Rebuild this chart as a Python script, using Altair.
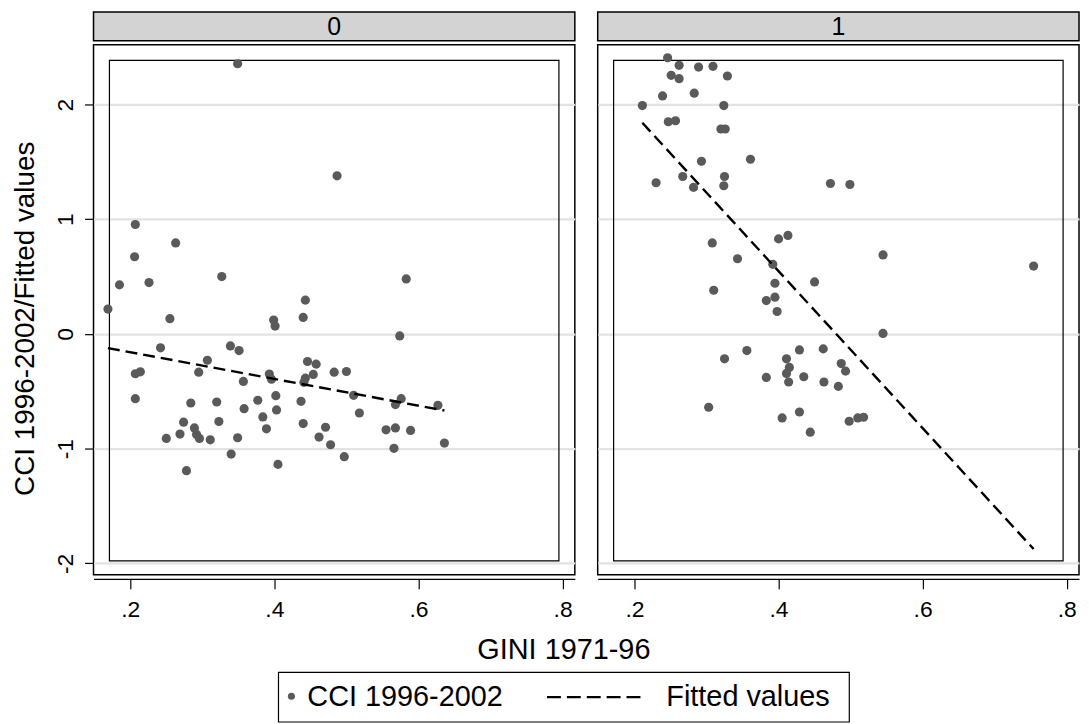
import altair as alt
import pandas as pd

# ---------------- data ----------------
panel_labels = ["0", "1"]

gini_0 = [0.349, 0.487, 0.207, 0.263, 0.206, 0.185, 0.226, 0.327, 0.443, 0.169,
          0.255, 0.440, 0.399, 0.401, 0.242, 0.339, 0.351, 0.207, 0.214, 0.307,
          0.295, 0.357, 0.393, 0.396, 0.446, 0.458, 0.443, 0.454, 0.441, 0.483,
          0.207, 0.284, 0.320, 0.377, 0.402, 0.437, 0.358, 0.403, 0.384, 0.274,
          0.323, 0.440, 0.289, 0.389, 0.471, 0.250, 0.269, 0.292, 0.296, 0.311,
          0.349, 0.462, 0.478, 0.340, 0.405, 0.278, 0.583, 0.574, 0.500, 0.510,
          0.576, 0.568, 0.627, 0.518, 0.555, 0.568, 0.589, 0.566, 0.636, 0.497]
cci_0 = [2.356, 1.379, 0.954, 0.794, 0.673, 0.428, 0.448, 0.500, 0.295, 0.217,
         0.133, 0.144, 0.121, 0.069, -0.121, -0.104, -0.145, -0.347, -0.330, -0.229,
         -0.333, -0.414, -0.350, -0.394, -0.240, -0.263, -0.385, -0.353, -0.422, -0.333,
         -0.564, -0.602, -0.593, -0.578, -0.538, -0.587, -0.651, -0.662, -0.723, -0.769,
         -0.763, -0.781, -0.819, -0.827, -0.813, -0.911, -0.873, -0.876, -0.911, -0.923,
         -0.905, -0.899, -0.966, -1.047, -1.137, -1.192, 0.480, -0.017, -0.327, -0.535,
         -0.564, -0.616, -0.622, -0.689, -0.836, -0.819, -0.841, -0.997, -0.951, -1.070]

gini_1 = [0.246, 0.262, 0.289, 0.309, 0.251, 0.262, 0.329, 0.239, 0.283, 0.211,
          0.324, 0.247, 0.257, 0.320, 0.326, 0.293, 0.361, 0.230, 0.267, 0.282,
          0.325, 0.324, 0.472, 0.499, 0.308, 0.400, 0.413, 0.343, 0.392, 0.545,
          0.754, 0.395, 0.450, 0.310, 0.395, 0.383, 0.398, 0.545, 0.356, 0.325,
          0.429, 0.462, 0.411, 0.415, 0.411, 0.414, 0.487, 0.493, 0.383, 0.435,
          0.463, 0.483, 0.303, 0.405, 0.429, 0.444, 0.498, 0.510, 0.518]
cci_1 = [2.408, 2.342, 2.327, 2.333, 2.255, 2.226, 2.249, 2.075, 2.099, 1.991,
         1.991, 1.850, 1.859, 1.787, 1.787, 1.506, 1.523, 1.318, 1.373, 1.278,
         1.373, 1.292, 1.312, 1.303, 0.794, 0.829, 0.859, 0.656, 0.607, 0.689,
         0.592, 0.442, 0.454, 0.381, 0.321, 0.291, 0.196, 0.005, -0.145, -0.217,
         -0.139, -0.130, -0.217, -0.292, -0.344, -0.419, -0.258, -0.324, -0.379, -0.373,
         -0.419, -0.457, -0.639, -0.732, -0.680, -0.856, -0.761, -0.732, -0.726]

fit_gini_0 = [0.169, 0.636]
fit_val_0 = [-0.123, -0.667]
fit_gini_1 = [0.211, 0.754]
fit_val_1 = [1.841, -1.875]

x_ticks = [0.2, 0.4, 0.6, 0.8]
y_ticks = [-2, -1, 0, 1, 2]
x_title = "GINI 1971-96"
y_title = "CCI 1996-2002/Fitted values"
legend_labels = ["CCI 1996-2002", "Fitted values"]

# ---------------- styling ----------------
W, H = 484, 533
XDOM = [0.149, 0.817]
YDOM = [-2.1, 2.521]
FONT = "Liberation Sans"
PT = "#5a5a5a"
GRID = "#e2e2e2"
HDR = "#d3d3d3"


def panel(i, gx, cy, fx, fy, show_y, extras=None):
    pts = pd.DataFrame({"gini": gx, "cci": cy})
    fit = pd.DataFrame({"gini": fx, "cci": fy})
    hdr = pd.DataFrame({"label": [panel_labels[i]]})

    xaxis = alt.Axis(values=x_ticks, title=None, grid=False, offset=4,
                     tickSize=10, tickColor="black", tickWidth=1.2,
                     domainColor="black", domainWidth=1.2,
                     labelPadding=10, labelFontSize=23, labelColor="black",
                     labelFont=FONT,
                     labelExpr="replace(format(datum.value, '.1f'), '0.', '.')")
    if show_y:
        yaxis = alt.Axis(values=y_ticks, title=y_title, grid=True,
                         gridColor=GRID, gridWidth=2.2, domain=False,
                         tickSize=9, tickColor="black", tickWidth=1.2,
                         labelAngle=270, labelAlign="center",
                         labelBaseline="alphabetic", labelPadding=12,
                         labelFontSize=23, labelColor="black", labelFont=FONT,
                         labelExpr="datum.value < 0 ? '-' + abs(datum.value) : '' + datum.value",
                         titleFont=FONT, titleFontSize=28, titleFontWeight="normal",
                         titleColor="black", titleAngle=270, titleAlign="center",
                         titleBaseline="alphabetic", titleX=-60, titleY=275)
    else:
        yaxis = alt.Axis(values=y_ticks, title=None, grid=True, gridColor=GRID,
                         gridWidth=2.2, labels=False, ticks=False, domain=False)

    xs = alt.Scale(domain=XDOM, nice=False, zero=False)
    ys = alt.Scale(domain=YDOM, nice=False, zero=False)
    X = alt.X("gini:Q", scale=xs, axis=xaxis)
    Y = alt.Y("cci:Q", scale=ys, axis=yaxis)

    header_rect = alt.Chart(hdr).mark_rect(fill=HDR, stroke="black", strokeWidth=1.5).encode(
        x=alt.value(0), x2=alt.value(W), y=alt.value(-33), y2=alt.value(-4))
    header_text = alt.Chart(hdr).mark_text(font=FONT, fontSize=25, color="black",
                                           align="center", baseline="middle").encode(
        x=alt.value(W / 2), y=alt.value(-18), text="label:N")
    inner = alt.Chart(hdr).mark_rect(fill="white", fillOpacity=0, stroke="black",
                                     strokeWidth=1.2).encode(
        x=alt.value(16), x2=alt.value(W - 16), y=alt.value(15.7), y2=alt.value(519))
    points = alt.Chart(pts).mark_circle(size=85, color=PT, opacity=1).encode(x=X, y=Y)
    line = alt.Chart(fit).mark_line(color="black", strokeDash=[12, 6],
                                    strokeWidth=2.4).encode(x=X, y=Y)
    layers = [header_rect, header_text, inner, points, line]
    if extras:
        layers += extras
    return alt.layer(*layers).properties(width=W, height=H)


one = pd.DataFrame({"k": [0]})
xt = alt.Chart(one).mark_text(font=FONT, fontSize=29, color="black", align="center",
                              baseline="middle").encode(
    x=alt.value(473), y=alt.value(609), text=alt.value(x_title))
leg_box = alt.Chart(one).mark_rect(fill="white", stroke="black", strokeWidth=1.2).encode(
    x=alt.value(186), x2=alt.value(760), y=alt.value(631), y2=alt.value(681))
leg_pt = alt.Chart(one).mark_circle(size=50, color=PT, opacity=1).encode(
    x=alt.value(199), y=alt.value(655))
leg_t1 = alt.Chart(one).mark_text(font=FONT, fontSize=29, color="black", align="left",
                                  baseline="middle").encode(
    x=alt.value(215), y=alt.value(656), text=alt.value(legend_labels[0]))
leg_ln = alt.Chart(one).mark_rule(color="black", strokeDash=[14, 6], strokeWidth=2.2).encode(
    x=alt.value(456), x2=alt.value(556), y=alt.value(656))
leg_t2 = alt.Chart(one).mark_text(font=FONT, fontSize=29, color="black", align="left",
                                  baseline="middle").encode(
    x=alt.value(576), y=alt.value(656), text=alt.value(legend_labels[1]))

left = panel(0, gini_0, cci_0, fit_gini_0, fit_val_0, True,
             extras=[xt, leg_box, leg_pt, leg_t1, leg_ln, leg_t2])
right = panel(1, gini_1, cci_1, fit_gini_1, fit_val_1, False)

chart = alt.hconcat(left, right, spacing=23, bounds="flush").properties(
    padding={"left": 3, "top": 0, "right": 0, "bottom": 0},
    background="white",
).configure_view(stroke="black", strokeWidth=1.5)

chart.save("out.html", embed_options={"renderer": "svg", "actions": False})
